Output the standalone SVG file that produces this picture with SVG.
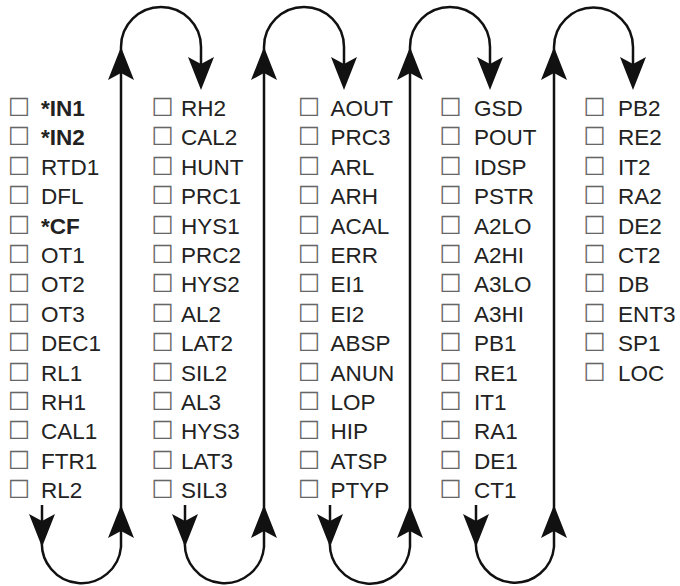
<svg xmlns="http://www.w3.org/2000/svg" xmlns:xlink="http://www.w3.org/1999/xlink" width="680" height="586" viewBox="0 0 680 586">
<style>
.t{font-family:"Liberation Sans",Arial,sans-serif;font-size:22.5px;fill:#222}
.b{font-weight:bold}
.bx{font-family:"DejaVu Sans",sans-serif;font-size:25px;fill:#666;font-weight:normal}
.ln{fill:none;stroke:#111;stroke-width:2.5}
.ah{fill:#111}
</style>
<defs>
<path id="ah" d="M0,0 L13,33 L0,26 L-13,33 Z"/>
</defs>
<rect width="680" height="586" fill="#fff"/>
<g id="col1" class="t">
<text y="116"><tspan class="bx" x="8">☐</tspan><tspan class="b" x="41">*IN1</tspan></text>
<text y="145.4"><tspan class="bx" x="8">☐</tspan><tspan class="b" x="41">*IN2</tspan></text>
<text y="174.8"><tspan class="bx" x="8">☐</tspan><tspan x="41">RTD1</tspan></text>
<text y="204.2"><tspan class="bx" x="8">☐</tspan><tspan x="41">DFL</tspan></text>
<text y="233.6"><tspan class="bx" x="8">☐</tspan><tspan class="b" x="41">*CF</tspan></text>
<text y="263"><tspan class="bx" x="8">☐</tspan><tspan x="41">OT1</tspan></text>
<text y="292.4"><tspan class="bx" x="8">☐</tspan><tspan x="41">OT2</tspan></text>
<text y="321.8"><tspan class="bx" x="8">☐</tspan><tspan x="41">OT3</tspan></text>
<text y="351.2"><tspan class="bx" x="8">☐</tspan><tspan x="41">DEC1</tspan></text>
<text y="380.6"><tspan class="bx" x="8">☐</tspan><tspan x="41">RL1</tspan></text>
<text y="410"><tspan class="bx" x="8">☐</tspan><tspan x="41">RH1</tspan></text>
<text y="439.4"><tspan class="bx" x="8">☐</tspan><tspan x="41">CAL1</tspan></text>
<text y="468.8"><tspan class="bx" x="8">☐</tspan><tspan x="41">FTR1</tspan></text>
<text y="498.2"><tspan class="bx" x="8">☐</tspan><tspan x="41">RL2</tspan></text>
</g>
<g id="col2" class="t">
<text y="116"><tspan class="bx" x="151.5">☐</tspan><tspan x="181">RH2</tspan></text>
<text y="145.4"><tspan class="bx" x="151.5">☐</tspan><tspan x="181">CAL2</tspan></text>
<text y="174.8"><tspan class="bx" x="151.5">☐</tspan><tspan x="181">HUNT</tspan></text>
<text y="204.2"><tspan class="bx" x="151.5">☐</tspan><tspan x="181">PRC1</tspan></text>
<text y="233.6"><tspan class="bx" x="151.5">☐</tspan><tspan x="181">HYS1</tspan></text>
<text y="263"><tspan class="bx" x="151.5">☐</tspan><tspan x="181">PRC2</tspan></text>
<text y="292.4"><tspan class="bx" x="151.5">☐</tspan><tspan x="181">HYS2</tspan></text>
<text y="321.8"><tspan class="bx" x="151.5">☐</tspan><tspan x="181">AL2</tspan></text>
<text y="351.2"><tspan class="bx" x="151.5">☐</tspan><tspan x="181">LAT2</tspan></text>
<text y="380.6"><tspan class="bx" x="151.5">☐</tspan><tspan x="181">SIL2</tspan></text>
<text y="410"><tspan class="bx" x="151.5">☐</tspan><tspan x="181">AL3</tspan></text>
<text y="439.4"><tspan class="bx" x="151.5">☐</tspan><tspan x="181">HYS3</tspan></text>
<text y="468.8"><tspan class="bx" x="151.5">☐</tspan><tspan x="181">LAT3</tspan></text>
<text y="498.2"><tspan class="bx" x="151.5">☐</tspan><tspan x="181">SIL3</tspan></text>
</g>
<g id="col3" class="t">
<text y="116"><tspan class="bx" x="298">☐</tspan><tspan x="330.5">AOUT</tspan></text>
<text y="145.4"><tspan class="bx" x="298">☐</tspan><tspan x="330.5">PRC3</tspan></text>
<text y="174.8"><tspan class="bx" x="298">☐</tspan><tspan x="330.5">ARL</tspan></text>
<text y="204.2"><tspan class="bx" x="298">☐</tspan><tspan x="330.5">ARH</tspan></text>
<text y="233.6"><tspan class="bx" x="298">☐</tspan><tspan x="330.5">ACAL</tspan></text>
<text y="263"><tspan class="bx" x="298">☐</tspan><tspan x="330.5">ERR</tspan></text>
<text y="292.4"><tspan class="bx" x="298">☐</tspan><tspan x="330.5">EI1</tspan></text>
<text y="321.8"><tspan class="bx" x="298">☐</tspan><tspan x="330.5">EI2</tspan></text>
<text y="351.2"><tspan class="bx" x="298">☐</tspan><tspan x="330.5">ABSP</tspan></text>
<text y="380.6"><tspan class="bx" x="298">☐</tspan><tspan x="330.5">ANUN</tspan></text>
<text y="410"><tspan class="bx" x="298">☐</tspan><tspan x="330.5">LOP</tspan></text>
<text y="439.4"><tspan class="bx" x="298">☐</tspan><tspan x="330.5">HIP</tspan></text>
<text y="468.8"><tspan class="bx" x="298">☐</tspan><tspan x="330.5">ATSP</tspan></text>
<text y="498.2"><tspan class="bx" x="298">☐</tspan><tspan x="330.5">PTYP</tspan></text>
</g>
<g id="col4" class="t">
<text y="116"><tspan class="bx" x="439.5">☐</tspan><tspan x="474">GSD</tspan></text>
<text y="145.4"><tspan class="bx" x="439.5">☐</tspan><tspan x="474">POUT</tspan></text>
<text y="174.8"><tspan class="bx" x="439.5">☐</tspan><tspan x="474">IDSP</tspan></text>
<text y="204.2"><tspan class="bx" x="439.5">☐</tspan><tspan x="474">PSTR</tspan></text>
<text y="233.6"><tspan class="bx" x="439.5">☐</tspan><tspan x="474">A2LO</tspan></text>
<text y="263"><tspan class="bx" x="439.5">☐</tspan><tspan x="474">A2HI</tspan></text>
<text y="292.4"><tspan class="bx" x="439.5">☐</tspan><tspan x="474">A3LO</tspan></text>
<text y="321.8"><tspan class="bx" x="439.5">☐</tspan><tspan x="474">A3HI</tspan></text>
<text y="351.2"><tspan class="bx" x="439.5">☐</tspan><tspan x="474">PB1</tspan></text>
<text y="380.6"><tspan class="bx" x="439.5">☐</tspan><tspan x="474">RE1</tspan></text>
<text y="410"><tspan class="bx" x="439.5">☐</tspan><tspan x="474">IT1</tspan></text>
<text y="439.4"><tspan class="bx" x="439.5">☐</tspan><tspan x="474">RA1</tspan></text>
<text y="468.8"><tspan class="bx" x="439.5">☐</tspan><tspan x="474">DE1</tspan></text>
<text y="498.2"><tspan class="bx" x="439.5">☐</tspan><tspan x="474">CT1</tspan></text>
</g>
<g id="col5" class="t">
<text y="116"><tspan class="bx" x="583.5">☐</tspan><tspan x="618">PB2</tspan></text>
<text y="145.4"><tspan class="bx" x="583.5">☐</tspan><tspan x="618">RE2</tspan></text>
<text y="174.8"><tspan class="bx" x="583.5">☐</tspan><tspan x="618">IT2</tspan></text>
<text y="204.2"><tspan class="bx" x="583.5">☐</tspan><tspan x="618">RA2</tspan></text>
<text y="233.6"><tspan class="bx" x="583.5">☐</tspan><tspan x="618">DE2</tspan></text>
<text y="263"><tspan class="bx" x="583.5">☐</tspan><tspan x="618">CT2</tspan></text>
<text y="292.4"><tspan class="bx" x="583.5">☐</tspan><tspan x="618">DB</tspan></text>
<text y="321.8"><tspan class="bx" x="583.5">☐</tspan><tspan x="618">ENT3</tspan></text>
<text y="351.2"><tspan class="bx" x="583.5">☐</tspan><tspan x="618">SP1</tspan></text>
<text y="380.6"><tspan class="bx" x="583.5">☐</tspan><tspan x="618">LOC</tspan></text>
</g>
<g id="connectors">
<path class="ln" d="M42,505 V540 A39.5,39.5 0 0 0 121,547 V47 A40,40 0 0 1 201,47 V80"/>
<path class="ln" d="M185,505 V540 A39.5,39.5 0 0 0 264,547 V47 A40,40 0 0 1 344,47 V80"/>
<path class="ln" d="M330,505 V540 A40,40 0 0 0 410,547 V47 A40,40 0 0 1 490,47 V80"/>
<path class="ln" d="M476,505 V540 A39,39 0 0 0 554,547 V47 A39.5,39.5 0 0 1 633,47 V80"/>
<g class="ah">
<use xlink:href="#ah" transform="translate(42,547) rotate(180)"/>
<use xlink:href="#ah" transform="translate(121,505)"/>
<use xlink:href="#ah" transform="translate(121,47)"/>
<use xlink:href="#ah" transform="translate(201,90) rotate(180)"/>
<use xlink:href="#ah" transform="translate(185,547) rotate(180)"/>
<use xlink:href="#ah" transform="translate(264,505)"/>
<use xlink:href="#ah" transform="translate(264,47)"/>
<use xlink:href="#ah" transform="translate(344,90) rotate(180)"/>
<use xlink:href="#ah" transform="translate(330,547) rotate(180)"/>
<use xlink:href="#ah" transform="translate(410,505)"/>
<use xlink:href="#ah" transform="translate(410,47)"/>
<use xlink:href="#ah" transform="translate(490,90) rotate(180)"/>
<use xlink:href="#ah" transform="translate(476,547) rotate(180)"/>
<use xlink:href="#ah" transform="translate(554,505)"/>
<use xlink:href="#ah" transform="translate(554,47)"/>
<use xlink:href="#ah" transform="translate(633,90) rotate(180)"/>
</g>
</g>
</svg>
